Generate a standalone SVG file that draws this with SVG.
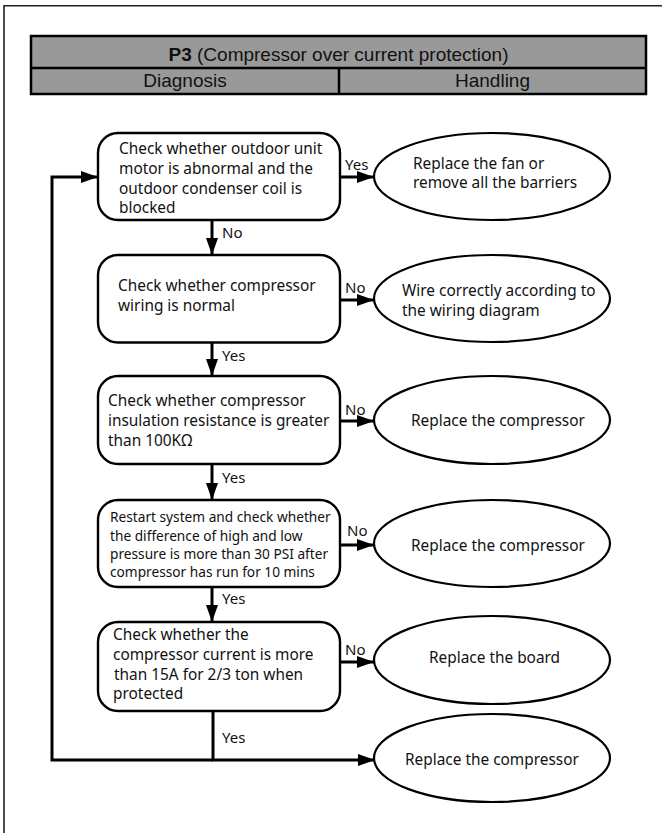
<svg xmlns="http://www.w3.org/2000/svg" width="662" height="833" viewBox="0 0 662 833">
<style>
.frame{fill:none;stroke:#222;stroke-width:1.6}
.hdr{fill:#999;stroke:#000;stroke-width:2.5}
.ht{font-family:"Liberation Sans",Arial,sans-serif;font-size:19px;fill:#111}
.box{fill:#fff;stroke:#000;stroke-width:2.4}
.ell{fill:#fff;stroke:#000;stroke-width:2.2}
.t{font-family:"Noto Sans","Open Sans",sans-serif;font-size:15.4px;fill:#111}
.ts{font-family:"Noto Sans","Open Sans",sans-serif;font-size:13.7px;fill:#111}
.lbl{font-family:"Noto Sans","Open Sans",sans-serif;font-size:15px;fill:#111}
.c{fill:none;stroke:#000;stroke-width:3;stroke-linejoin:miter}
</style>
<defs>
<marker id="ah" markerUnits="userSpaceOnUse" markerWidth="18" markerHeight="14" refX="17" refY="6" orient="auto">
<path d="M0,0 L17,6 L0,12 z" fill="#000"/>
</marker>
</defs>
<rect width="662" height="833" fill="#fff"/>
<path class="frame" d="M4,833 V5.8 H662"/>
<g id="header">
<rect class="hdr" x="31" y="36" width="615" height="58"/>
<line x1="31" y1="68" x2="646" y2="68" stroke="#000" stroke-width="2.5"/>
<line x1="339" y1="68" x2="339" y2="94" stroke="#000" stroke-width="2.5"/>
<text class="ht" x="338.5" y="61" text-anchor="middle"><tspan font-weight="bold">P3</tspan>  (Compressor over current protection)</text>
<text class="ht" x="185" y="86.5" text-anchor="middle">Diagnosis</text>
<text class="ht" x="492.5" y="86.5" text-anchor="middle">Handling</text>
</g>
<g id="connectors">
<path class="c" d="M212,220 V255" marker-end="url(#ah)"/>
<path class="c" d="M212,342.5 V376" marker-end="url(#ah)"/>
<path class="c" d="M212,464 V500" marker-end="url(#ah)"/>
<path class="c" d="M212,587 V622" marker-end="url(#ah)"/>
<path class="c" d="M340,177 H374" marker-end="url(#ah)"/>
<path class="c" d="M340,300 H374" marker-end="url(#ah)"/>
<path class="c" d="M340,421 H374" marker-end="url(#ah)"/>
<path class="c" d="M340,545 H374" marker-end="url(#ah)"/>
<path class="c" d="M340,662 H374" marker-end="url(#ah)"/>
<path class="c" d="M213,711 V760 H375" marker-end="url(#ah)"/>
<path class="c" d="M213,760 H52 V177 H98" marker-end="url(#ah)"/>
<text class="lbl" x="222" y="238">No</text>
<text class="lbl" x="222" y="361">Yes</text>
<text class="lbl" x="222" y="483">Yes</text>
<text class="lbl" x="222" y="604">Yes</text>
<text class="lbl" x="222" y="743">Yes</text>
<text class="lbl" x="345" y="170">Yes</text>
<text class="lbl" x="345" y="293">No</text>
<text class="lbl" x="345" y="415">No</text>
<text class="lbl" x="347" y="536">No</text>
<text class="lbl" x="345" y="655">No</text>
</g>
<g id="box1">
<rect class="box" x="98" y="133" width="242" height="87" rx="20"/>
<text class="t" x="119" y="154">Check whether outdoor unit</text>
<text class="t" x="119" y="174">motor is abnormal and the</text>
<text class="t" x="119" y="194">outdoor condenser coil is</text>
<text class="t" x="119" y="213">blocked</text>
</g>
<g id="box2">
<rect class="box" x="98" y="255" width="242" height="87.5" rx="20"/>
<text class="t" x="118" y="291">Check whether compressor</text>
<text class="t" x="118" y="311">wiring is normal</text>
</g>
<g id="box3">
<rect class="box" x="98" y="376" width="242" height="88" rx="20"/>
<text class="t" x="108" y="406">Check whether compressor</text>
<text class="t" x="108" y="426">insulation resistance is greater</text>
<text class="t" x="108" y="446">than 100KΩ</text>
</g>
<g id="box4">
<rect class="box" x="98" y="500" width="242" height="87" rx="20"/>
<text class="ts" x="110" y="522">Restart system and check whether</text>
<text class="ts" x="110" y="541">the difference of high and low</text>
<text class="ts" x="110" y="559">pressure is more than 30 PSI after</text>
<text class="ts" x="110" y="577">compressor has run for 10 mins</text>
</g>
<g id="box5">
<rect class="box" x="98" y="622" width="242" height="89" rx="20"/>
<text class="t" x="113" y="640">Check whether the</text>
<text class="t" x="113" y="660">compressor current is more</text>
<text class="t" x="114" y="680">than 15A for 2/3 ton when</text>
<text class="t" x="113" y="699">protected</text>
</g>
<g id="e1">
<ellipse class="ell" cx="492" cy="176.5" rx="118" ry="43.5"/>
<text class="t" x="413" y="169">Replace the fan or</text>
<text class="t" x="413" y="188">remove all the barriers</text>
</g>
<g id="e2">
<ellipse class="ell" cx="492" cy="298.5" rx="118" ry="43.5"/>
<text class="t" x="402" y="296">Wire correctly according to</text>
<text class="t" x="402" y="316">the wiring diagram</text>
</g>
<g id="e3">
<ellipse class="ell" cx="492" cy="420" rx="118" ry="44"/>
<text class="t" x="411" y="426">Replace the compressor</text>
</g>
<g id="e4">
<ellipse class="ell" cx="492" cy="543.5" rx="118" ry="43.5"/>
<text class="t" x="411" y="551">Replace the compressor</text>
</g>
<g id="e5">
<ellipse class="ell" cx="492" cy="660" rx="118" ry="44"/>
<text class="t" x="429" y="663">Replace the board</text>
</g>
<g id="e6">
<ellipse class="ell" cx="492" cy="758" rx="118" ry="44"/>
<text class="t" x="405" y="765">Replace the compressor</text>
</g>
</svg>
